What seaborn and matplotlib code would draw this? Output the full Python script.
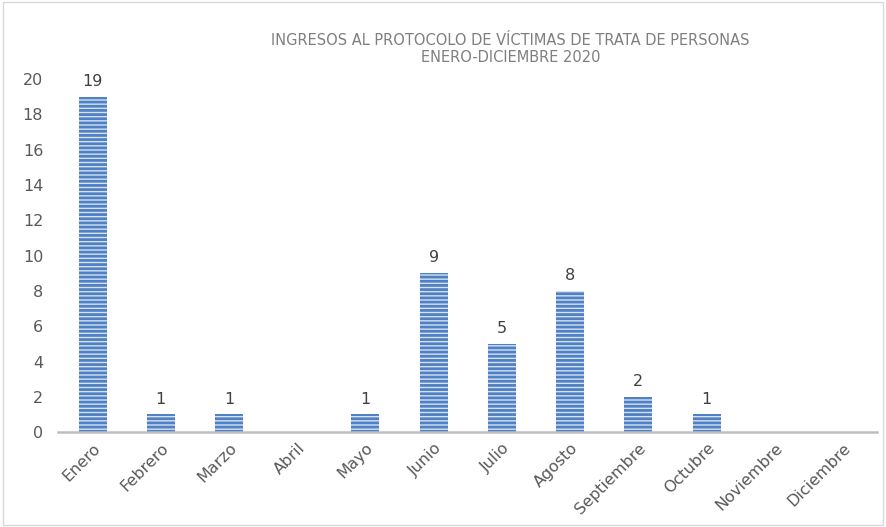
import numpy as np
import pandas as pd
import matplotlib
matplotlib.use("Agg")
import matplotlib.pyplot as plt
import seaborn as sns
from matplotlib.patches import Rectangle

meses = ["Enero", "Febrero", "Marzo", "Abril", "Mayo", "Junio", "Julio",
         "Agosto", "Septiembre", "Octubre", "Noviembre", "Diciembre"]
ingresos = [19, 1, 1, 0, 1, 9, 5, 8, 2, 1, 0, 0]
yticks = [0, 2, 4, 6, 8, 10, 12, 14, 16, 18, 20]
titulo = "INGRESOS AL PROTOCOLO DE VÍCTIMAS DE TRATA DE PERSONAS\nENERO-DICIEMBRE 2020"

df = pd.DataFrame({"mes": meses, "ingresos": ingresos})

sns.set_style("white")
plt.rcParams["font.family"] = ["DejaVu Sans"]
plt.rcParams["hatch.linewidth"] = 2.0

fig = plt.figure(figsize=(8.86, 5.27), dpi=100)
ax = fig.add_axes([0.066, 0.18, 0.924, 0.67])

sns.barplot(data=df, x="mes", y="ingresos", ax=ax, width=0.41,
            color="#d6e2f2", saturation=1)
for p in ax.patches:
    p.set_hatch("----")
    p.set_edgecolor("#4f81c4")
    p.set_linewidth(0)

for p, v in zip(ax.patches, ingresos):
    if v > 0:
        ax.text(p.get_x() + p.get_width() / 2, v + 0.45, str(v),
                ha="center", va="bottom", fontsize=11.5, color="#404040")

ax.set_ylim(0, 20)
ax.set_xlim(-0.5, 11.5)
ax.set_yticks(yticks)
ax.set_yticklabels([str(t) for t in yticks], fontsize=11.5, color="#595959")
ax.set_xticks(range(len(meses)))
ax.set_xticklabels(meses, rotation=45, ha="right", rotation_mode="anchor",
                   fontsize=11.5, color="#595959")
ax.tick_params(axis="x", length=0, pad=6)
ax.tick_params(axis="y", length=0, pad=11)
ax.set_xlabel("")
ax.set_ylabel("")
sns.despine(ax=ax, left=True, top=True, right=True)
ax.spines["bottom"].set_color("#bfbfbf")
ax.spines["bottom"].set_linewidth(1.8)

fig.text(0.576, 0.907, titulo, ha="center", va="center", fontsize=10.5,
         color="#7f7f7f", linespacing=1.1)

fig.patches.append(Rectangle((0.003, 0.004), 0.994, 0.992, transform=fig.transFigure,
                             fill=False, edgecolor="#d9d9d9", linewidth=1))

fig.savefig("out.png", dpi=100)
